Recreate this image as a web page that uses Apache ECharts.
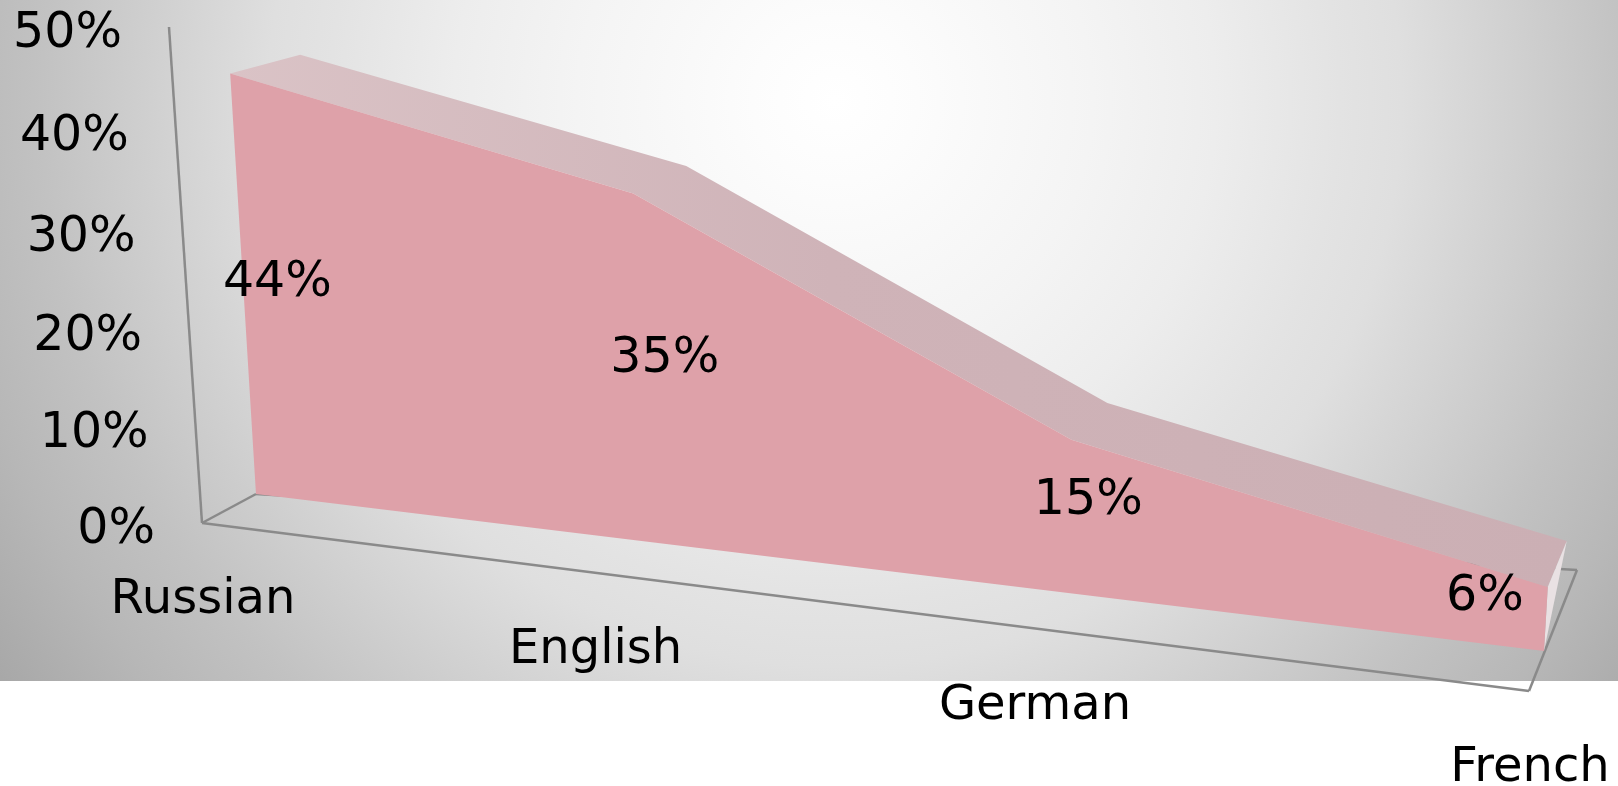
<!DOCTYPE html>
<html>
<head>
<meta charset="utf-8">
<script src="https://cdn.jsdelivr.net/npm/echarts@6/dist/echarts.min.js"></script>
<style>
html,body{margin:0;padding:0;background:#fff;}
#main{width:1618px;height:786px;}
</style>
</head>
<body>
<div id="main"></div>
<script>
var languages=['Russian','English','German','French'];
var shares=[44,35,15,6];
var shareLabels=['44%','35%','15%','6%'];
var yTicks=[0,10,20,30,40,50];

//perspective planes: corners of the unit square (first category/0, last/0, last/max, first/max) on the page
var axisCorners=[[202,523],[1529,691],[1565,105],[169,27]];
var frontCorners=[[256,494],[1544,651],[1577,94],[226.5,13.6]];
var backCorners=[[326,473],[1563,605],[1596,46],[296.5,-5]];
var labelShift=[[34,-5],[27,-11],[18,-16],[-61,-22]];

var font='49px "DejaVu Sans"';
var catFont='48px "DejaVu Sans"';
var lineColor='#8a8a8a';

function makePlane(c){
    var dx1=c[1][0]-c[2][0],dx2=c[3][0]-c[2][0],sx=c[0][0]-c[1][0]+c[2][0]-c[3][0];
    var dy1=c[1][1]-c[2][1],dy2=c[3][1]-c[2][1],sy=c[0][1]-c[1][1]+c[2][1]-c[3][1];
    var den=dx1*dy2-dx2*dy1;
    var g=(sx*dy2-dx2*sy)/den,h=(dx1*sy-sx*dy1)/den;
    return {
        a:c[1][0]-c[0][0]+g*c[1][0],b:c[3][0]-c[0][0]+h*c[3][0],c:c[0][0],
        d:c[1][1]-c[0][1]+g*c[1][1],e:c[3][1]-c[0][1]+h*c[3][1],f:c[0][1],
        g:g,h:h
    };
}
var axisPlane=makePlane(axisCorners);
var frontPlane=makePlane(frontCorners);
var backPlane=makePlane(backCorners);

//flat grid pixel from the hidden axes -> point on a tilted plane
function project(api,plane,i,v){
    var p=api.coord([i,v]);
    var t=p[0]/api.getWidth(),u=1-p[1]/api.getHeight();
    var w=plane.g*t+plane.h*u+1;
    return [(plane.a*t+plane.b*u+plane.c)/w,(plane.d*t+plane.e*u+plane.f)/w];
}
function line(a,b){
    return {type:'line',shape:{x1:a[0],y1:a[1],x2:b[0],y2:b[1]},style:{stroke:lineColor,lineWidth:2.5}};
}
function poly(points,fill){
    return {type:'polygon',shape:{points:points},style:{fill:fill}};
}
function label(text,p,align,f){
    return {type:'text',style:{text:text,x:p[0],y:p[1],fill:'#000',font:f||font,align:align,verticalAlign:'middle'}};
}

var last=languages.length-1;
var myChart=echarts.init(document.getElementById('main'));
var option={
    animation:false,
    backgroundColor:'#fff',
    graphic:[{
        type:'rect',
        z:-10,
        silent:true,
        shape:{x:0,y:0,width:1618,height:681},
        style:{fill:new echarts.graphic.RadialGradient(835,100,1030,[
            {offset:0,color:'#ffffff'},
            {offset:0.08,color:'#fcfcfc'},
            {offset:0.25,color:'#f4f4f4'},
            {offset:0.37,color:'#ededed'},
            {offset:0.49,color:'#e3e3e3'},
            {offset:0.55,color:'#dfdfdf'},
            {offset:0.77,color:'#c2c2c2'},
            {offset:0.87,color:'#b7b7b7'},
            {offset:1,color:'#a6a6a6'}
        ],true)}
    }],
    grid:{left:0,right:0,top:0,bottom:0},
    xAxis:{type:'category',data:languages,boundaryGap:false,show:false},
    yAxis:{type:'value',min:0,max:50,interval:10,show:false},
    series:[
        {
            //floor frame and value axis with its labels
            name:'axis',
            type:'custom',
            coordinateSystem:'cartesian2d',
            z:1,
            data:yTicks.map(function(v){return [0,v];}),
            renderItem:function(params,api){
                var v=api.value(1);
                var p=project(api,axisPlane,0,v);
                var children=[label(v+'%',[p[0]-47,p[1]+7],'right')];
                if(params.dataIndex===0){
                    var o=project(api,axisPlane,0,0),r=project(api,axisPlane,last,0);
                    var top=project(api,axisPlane,0,50);
                    var bl=project(api,frontPlane,0,0);
                    var br=[r[0]+48,r[1]-121];
                    children.push(line(o,top),line(o,r),line(r,br),line(br,bl),line(o,bl));
                }
                return {type:'group',children:children};
            }
        },
        {
            //area body
            name:'share',
            type:'custom',
            coordinateSystem:'cartesian2d',
            z:2,
            data:shares.map(function(v,i){return [i,v];}),
            renderItem:function(params,api){
                var i=params.dataIndex,children=[];
                if(i===0){
                    var front=[],band=[],backTop=[],n;
                    for(n=0;n<=last;n++){
                        front.push(project(api,frontPlane,n,shares[n]));
                        backTop.push(project(api,backPlane,n,shares[n]));
                    }
                    band=front.concat(backTop.slice().reverse());
                    var body=front.concat([project(api,frontPlane,last,0),project(api,frontPlane,0,0)]);
                    var bandFill=new echarts.graphic.LinearGradient(0,0,1,0,[
                        {offset:0,color:'#dac3c6'},
                        {offset:0.45,color:'#cfb3b8'},
                        {offset:1,color:'#cbafb4'}
                    ]);
                    children.push(poly(band,bandFill));
                    children.push(poly([backTop[last],front[last],project(api,frontPlane,last,0)],'#e9e1e3'));
                    children.push(poly(body,'#dea1a9'));
                }
                return {type:'group',children:children};
            }
        },
        {
            name:'shareLabels',
            type:'custom',
            coordinateSystem:'cartesian2d',
            z:3,
            data:shares.map(function(v,i){return [i,v];}),
            renderItem:function(params,api){
                var i=params.dataIndex;
                var p=project(api,frontPlane,i,api.value(1)/2);
                return label(shareLabels[i],[p[0]+labelShift[i][0],p[1]+labelShift[i][1]],'center');
            }
        },
        {
            name:'languages',
            type:'custom',
            coordinateSystem:'cartesian2d',
            z:3,
            data:languages.map(function(c,i){return [i,0];}),
            renderItem:function(params,api){
                var p=project(api,axisPlane,params.dataIndex,0);
                return label(languages[params.dataIndex],[p[0]+1,p[1]+78],'center',catFont);
            }
        }
    ]
};
myChart.setOption(option);
</script>
</body>
</html>
